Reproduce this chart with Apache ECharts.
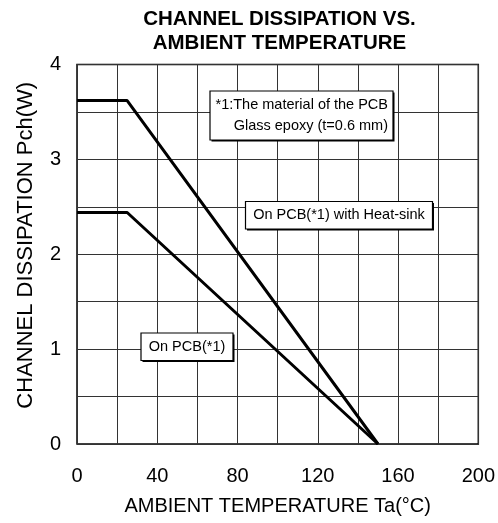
<!DOCTYPE html>
<html><head><meta charset="utf-8">
<script src="https://cdn.jsdelivr.net/npm/echarts@6/dist/echarts.min.js"></script>
<style>html,body{margin:0;padding:0;background:#fff}#c{width:498px;height:523px}</style>
</head><body><div id="c"></div>
<script>
var heatSinkTemp = [0, 25, 150];
var heatSinkPower = [3.62, 3.62, 0];
var pcbTemp = [0, 25, 150];
var pcbPower = [2.44, 2.44, 0];
var xTicks = [0, 40, 80, 120, 160, 200];
var yTicks = [0, 1, 2, 3, 4];

function pairs(xs, ys){ return xs.map(function(x,i){ return [x, ys[i]]; }); }
var F = 'Liberation Sans, Arial, sans-serif';
var chart = echarts.init(document.getElementById('c'));

function box(x, y, w, h, lines, align, fs){
  var els = [
    {type:'rect', shape:{x:x+1.5, y:y+1.5, width:w, height:h}, style:{fill:'#000'}, z:10},
    {type:'rect', shape:{x:x, y:y, width:w, height:h}, style:{fill:'#fff', stroke:'#000', lineWidth:1.2}, z:11}
  ];
  lines.forEach(function(t, i){
    els.push({type:'text', x: align==='right' ? x+w-5 : x+w/2, y: y + h/(lines.length) * (i+0.5) + (lines.length>1 ? (i===0?2:-2) : 0), z:12,
      style:{text:t, font:fs+'px '+F, fill:'#000', align: align==='right'?'right':'center', verticalAlign:'middle'}});
  });
  return els;
}

var g = [];
g = g.concat(box(210, 91, 183, 49, ['*1:The material of the PCB', 'Glass epoxy (t=0.6 mm)'], 'right', 14.5));
g = g.concat(box(245.5, 201.5, 187, 27.5, ['On PCB(*1) with Heat-sink'], 'center', 14.5));
g = g.concat(box(141, 333, 92, 27.5, ['On PCB(*1)'], 'center', 14.5));

chart.setOption({
  animation:false,
  title:{text:'CHANNEL DISSIPATION VS.\nAMBIENT TEMPERATURE', left:274.5, top:3, textAlign:'center',
    textStyle:{fontFamily:F, fontSize:20.5, fontWeight:'bold', color:'#000', lineHeight:23.5}},
  grid:{left:77, right:19, top:64.5, bottom:79, show:true, borderColor:'#000', borderWidth:1.5, backgroundColor:'transparent'},
  xAxis:{type:'value', min:0, max:200, interval:20,
    name:'AMBIENT TEMPERATURE Ta(°C)', nameLocation:'middle', nameGap:52,
    nameTextStyle:{fontFamily:F, fontSize:20, color:'#000'},
    axisLine:{show:false}, axisTick:{show:false},
    axisLabel:{margin:22, fontFamily:F, fontSize:20, color:'#000',
      formatter:function(v){ return xTicks.indexOf(v) >= 0 ? String(v) : ''; }},
    splitLine:{show:true, lineStyle:{color:'#333', width:1}}},
  yAxis:{type:'value', min:0, max:4, interval:0.5,
    name:'CHANNEL DISSIPATION Pch(W)', nameLocation:'middle', nameGap:40,
    nameTextStyle:{fontFamily:F, fontSize:22, color:'#000', padding:[0,0,0,18]},
    axisLine:{show:false}, axisTick:{show:false},
    axisLabel:{margin:16, fontFamily:F, fontSize:20, color:'#000',
      formatter:function(v){ return yTicks.indexOf(v) >= 0 ? String(v) : ''; }},
    splitLine:{show:true, lineStyle:{color:'#333', width:1}}},
  series:[
    {type:'line', data:pairs(heatSinkTemp, heatSinkPower), symbol:'none', lineStyle:{color:'#000', width:3}, z:5},
    {type:'line', data:pairs(pcbTemp, pcbPower), symbol:'none', lineStyle:{color:'#000', width:3}, z:5}
  ],
  graphic:g
});
</script></body></html>
